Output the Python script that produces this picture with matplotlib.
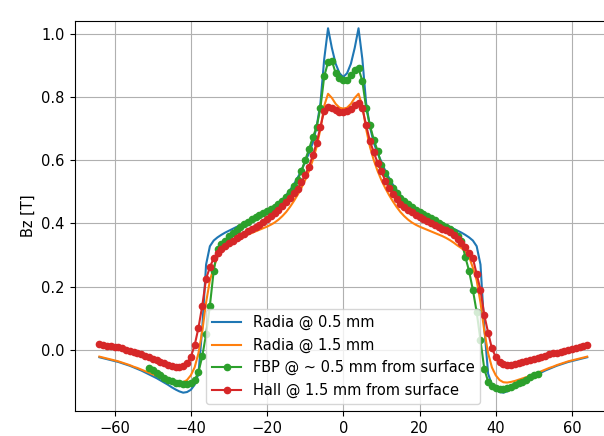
import numpy as np
import matplotlib
matplotlib.use("Agg")
import matplotlib.pyplot as plt

plt.rcParams["font.size"] = 10.5

# positions along the magnet [mm]
x_sim = np.arange(-64, 65)
x_hall = np.arange(-64, 65)
x_fbp = np.arange(-51, 52)

# Radia simulation @ 0.5 mm
radia_05 = [
    -0.023, -0.026, -0.029, -0.032, -0.035, -0.038, -0.042, -0.046, -0.050, -0.055,
    -0.060, -0.065, -0.071, -0.077, -0.083, -0.089, -0.096, -0.103, -0.110, -0.118,
    -0.125, -0.131, -0.135, -0.133, -0.126, -0.110, -0.075, 0.070, 0.270, 0.328,
    0.346, 0.356, 0.364, 0.371, 0.377, 0.383, 0.389, 0.394, 0.400, 0.405,
    0.410, 0.415, 0.421, 0.428, 0.435, 0.443, 0.452, 0.463, 0.475, 0.489,
    0.505, 0.523, 0.544, 0.567, 0.595, 0.622, 0.655, 0.705, 0.780, 0.920,
    1.017, 0.955, 0.905, 0.875, 0.863, 0.875, 0.905, 0.955, 1.017, 0.920,
    0.780, 0.705, 0.655, 0.622, 0.595, 0.567, 0.544, 0.523, 0.505, 0.489,
    0.475, 0.463, 0.452, 0.443, 0.435, 0.428, 0.421, 0.415, 0.410, 0.405,
    0.400, 0.394, 0.389, 0.383, 0.377, 0.371, 0.364, 0.356, 0.346, 0.328,
    0.270, 0.070, -0.075, -0.110, -0.126, -0.133, -0.135, -0.131, -0.125, -0.118,
    -0.110, -0.103, -0.096, -0.089, -0.083, -0.077, -0.071, -0.065, -0.060, -0.055,
    -0.050, -0.046, -0.042, -0.038, -0.035, -0.032, -0.029, -0.026, -0.023,
]

# Radia simulation @ 1.5 mm
radia_15 = [
    -0.021, -0.024, -0.027, -0.030, -0.033, -0.036, -0.040, -0.044, -0.048, -0.053,
    -0.057, -0.062, -0.067, -0.072, -0.077, -0.082, -0.086, -0.090, -0.094, -0.098,
    -0.101, -0.103, -0.102, -0.095, -0.080, -0.055, -0.010, 0.060, 0.150, 0.220,
    0.260, 0.295, 0.312, 0.322, 0.330, 0.339, 0.347, 0.354, 0.360, 0.365,
    0.370, 0.375, 0.380, 0.385, 0.390, 0.396, 0.403, 0.412, 0.423, 0.436,
    0.452, 0.470, 0.490, 0.512, 0.537, 0.566, 0.600, 0.642, 0.698, 0.772,
    0.810, 0.797, 0.778, 0.766, 0.763, 0.766, 0.778, 0.797, 0.810, 0.772,
    0.698, 0.642, 0.600, 0.566, 0.537, 0.512, 0.490, 0.470, 0.452, 0.436,
    0.423, 0.412, 0.403, 0.396, 0.390, 0.385, 0.380, 0.375, 0.370, 0.365,
    0.360, 0.354, 0.347, 0.339, 0.330, 0.322, 0.312, 0.295, 0.260, 0.220,
    0.150, 0.060, -0.010, -0.055, -0.080, -0.095, -0.102, -0.103, -0.101, -0.098,
    -0.094, -0.090, -0.086, -0.082, -0.077, -0.072, -0.067, -0.062, -0.057, -0.053,
    -0.048, -0.044, -0.040, -0.036, -0.033, -0.030, -0.027, -0.024, -0.021,
]

# FBP measurement @ ~0.5 mm
fbp_05 = [
    -0.058, -0.064, -0.072, -0.080, -0.088, -0.094, -0.099, -0.103, -0.106, -0.108,
    -0.108, -0.104, -0.095, -0.070, -0.020, 0.050, 0.140, 0.250, 0.320, 0.335,
    0.345, 0.360, 0.370, 0.380, 0.390, 0.398, 0.405, 0.413, 0.420, 0.426,
    0.432, 0.438, 0.445, 0.453, 0.462, 0.472, 0.485, 0.500, 0.517, 0.537,
    0.565, 0.600, 0.635, 0.672, 0.705, 0.765, 0.865, 0.910, 0.915, 0.875,
    0.860, 0.852, 0.853, 0.868, 0.885, 0.890, 0.850, 0.765, 0.710, 0.665,
    0.630, 0.585, 0.560, 0.535, 0.513, 0.497, 0.482, 0.470, 0.460, 0.452,
    0.444, 0.437, 0.430, 0.424, 0.417, 0.410, 0.403, 0.396, 0.389, 0.381,
    0.372, 0.360, 0.345, 0.295, 0.250, 0.190, 0.120, 0.030, -0.060, -0.100,
    -0.115, -0.120, -0.123, -0.122, -0.120, -0.117, -0.112, -0.106, -0.100, -0.094,
    -0.087, -0.080, -0.076,
]

# Hall probe @ 1.5 mm
hall_15 = [
    0.018, 0.016, 0.014, 0.012, 0.010, 0.008, 0.005, 0.001, -0.003, -0.006,
    -0.010, -0.014, -0.018, -0.023, -0.027, -0.032, -0.037, -0.042, -0.046, -0.050,
    -0.053, -0.054, -0.052, -0.042, -0.022, 0.015, 0.070, 0.140, 0.225, 0.262,
    0.290, 0.305, 0.318, 0.328, 0.337, 0.345, 0.353, 0.360, 0.367, 0.375,
    0.383, 0.390, 0.396, 0.404, 0.413, 0.422, 0.432, 0.443, 0.455, 0.467,
    0.480, 0.495, 0.510, 0.530, 0.553, 0.580, 0.615, 0.655, 0.705, 0.757,
    0.768, 0.765, 0.758, 0.753, 0.752, 0.755, 0.762, 0.775, 0.782, 0.765,
    0.710, 0.660, 0.625, 0.592, 0.565, 0.535, 0.512, 0.493, 0.477, 0.463,
    0.452, 0.443, 0.435, 0.428, 0.421, 0.415, 0.409, 0.402, 0.396, 0.390,
    0.384, 0.379, 0.373, 0.365, 0.352, 0.338, 0.325, 0.308, 0.290, 0.240,
    0.190, 0.110, 0.055, 0.005, -0.022, -0.037, -0.044, -0.047, -0.047, -0.045,
    -0.042, -0.039, -0.035, -0.031, -0.027, -0.024, -0.021, -0.018, -0.014, -0.011,
    -0.008, -0.005, -0.002, 0.001, 0.004, 0.007, 0.010, 0.013, 0.016,
]

fig = plt.figure(figsize=(6.04, 4.36), dpi=100)
ax = fig.add_axes([0.1235, 0.0573, 0.8897, 0.8945])

ax.plot(x_sim, radia_05, label="Radia @ 0.5 mm")
ax.plot(x_sim, radia_15, label="Radia @ 1.5 mm")
ax.plot(x_fbp, fbp_05, marker="o", markersize=4.5, label="FBP @ ~ 0.5 mm from surface")
ax.plot(x_hall, hall_15, marker="o", markersize=4.5, label="Hall @ 1.5 mm from surface")

ax.set_xlim(-70.5, 70.5)
ax.set_ylim(-0.193, 1.04)
ax.set_ylabel("Bz [T]")
ax.grid(True)
ax.legend(loc="lower center")

fig.savefig("out.png", dpi=100)
